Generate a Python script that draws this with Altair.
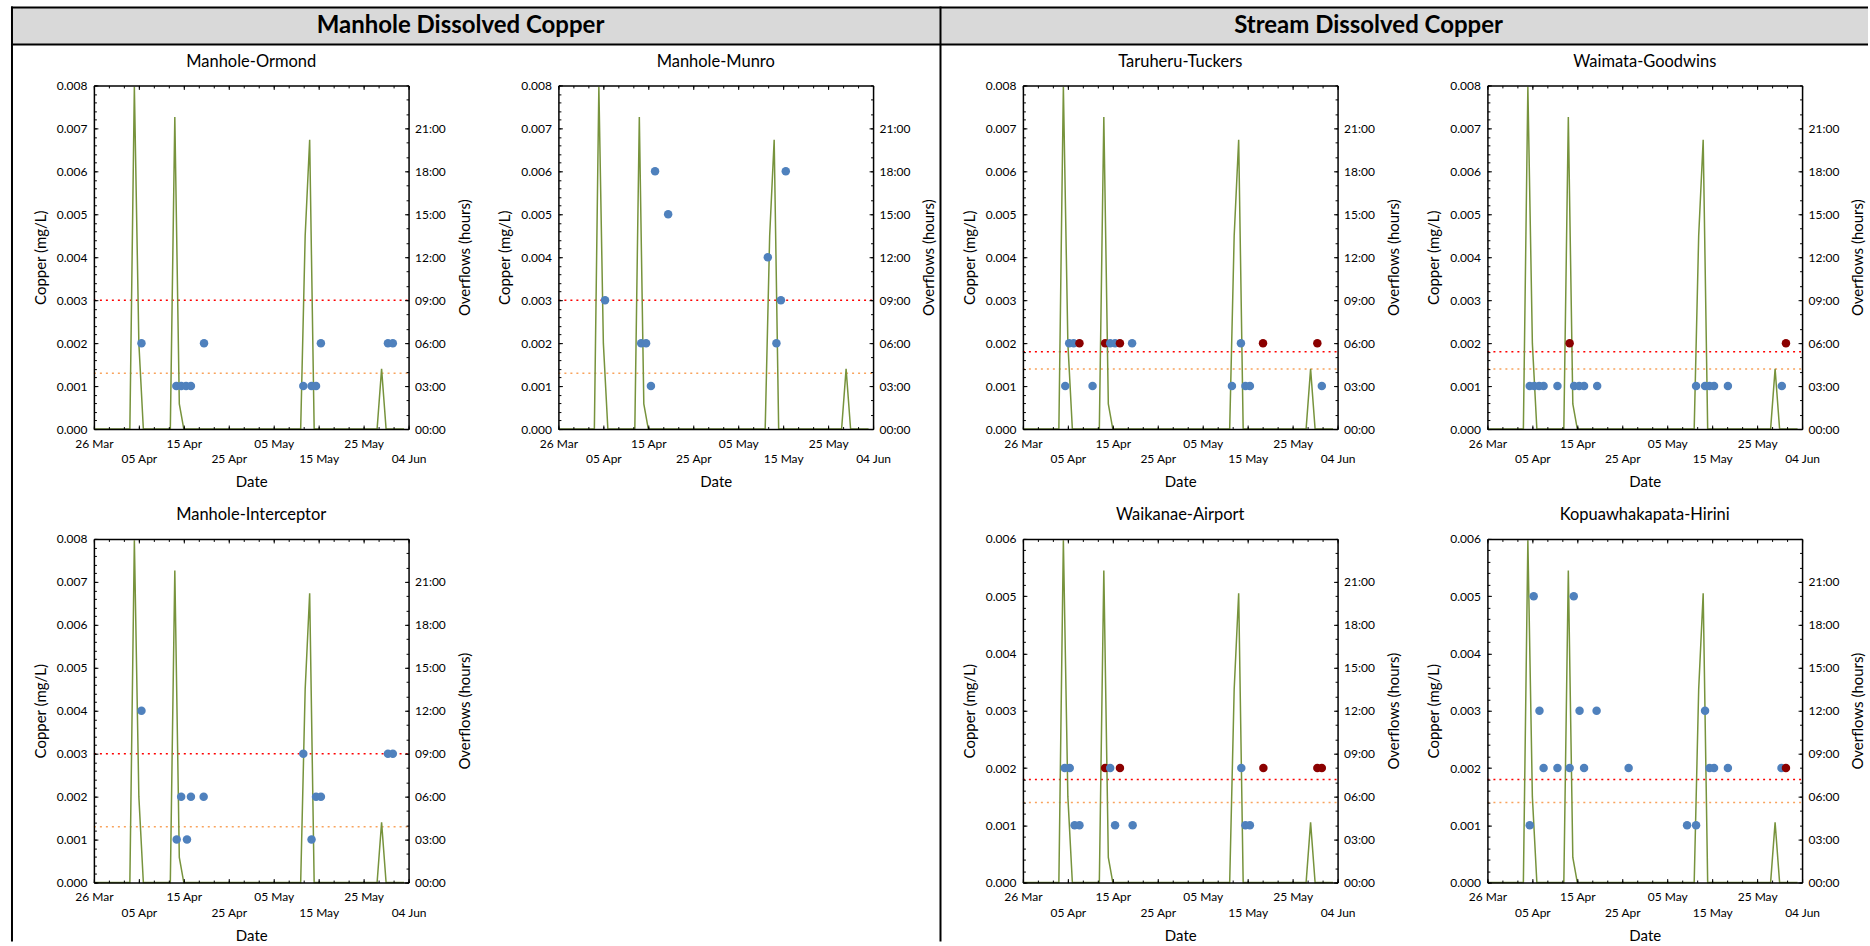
import altair as alt
import pandas as pd

FONT = "Lato"
BLUE = "#4F81BD"
DARKRED = "#8B0000"
GREEN = "#77933C"
RED = "#FF0000"
ORANGE = "#F9A35C"
GRAY = "#D9D9D9"

W, H = 315, 344

# ---------------- data ----------------
overflow_dates = ["2019-03-26", "2019-04-03", "2019-04-04", "2019-04-05", "2019-04-06",
                  "2019-04-12", "2019-04-13", "2019-04-14", "2019-04-15",
                  "2019-05-11", "2019-05-12", "2019-05-13", "2019-05-14",
                  "2019-05-28", "2019-05-29", "2019-05-30", "2019-06-03"]
overflow_hours = [0, 0, 23.9, 6.0, 0, 0, 21.8, 1.75, 0, 0, 13.5, 20.2, 0, 0, 4.2, 0, 0]

KINDS = ["normal", "flagged"]

ormond_dates = ["2019-04-05T14:00", "2019-04-13T08:00", "2019-04-14T10:00", "2019-04-15T12:00",
                "2019-04-16T14:00", "2019-04-19T12:00", "2019-05-11T14:00", "2019-05-13T10:00",
                "2019-05-14T10:00", "2019-05-15T12:00", "2019-05-30T10:00", "2019-05-31T12:00"]
ormond_cu = [0.002, 0.001, 0.001, 0.001, 0.001, 0.002, 0.001, 0.001, 0.001, 0.002, 0.002, 0.002]
ormond_flag = [0] * 12

munro_dates = ["2019-04-05T09:00", "2019-04-13T10:00", "2019-04-14T12:00", "2019-04-15T14:00",
               "2019-04-16T12:00", "2019-04-19T10:00", "2019-05-11T14:00", "2019-05-13T12:00",
               "2019-05-14T12:00", "2019-05-15T14:00"]
munro_cu = [0.003, 0.002, 0.002, 0.001, 0.006, 0.005, 0.004, 0.002, 0.003, 0.006]
munro_flag = [0] * 10

interceptor_dates = ["2019-04-05T14:00", "2019-04-13T10:00", "2019-04-14T10:00", "2019-04-15T17:00",
                     "2019-04-16T14:00", "2019-04-19T10:00", "2019-05-11T14:00", "2019-05-13T10:00",
                     "2019-05-14T10:00", "2019-05-15T12:00", "2019-05-30T10:00", "2019-05-31T12:00"]
interceptor_cu = [0.004, 0.001, 0.002, 0.001, 0.002, 0.002, 0.003, 0.001, 0.002, 0.002, 0.003, 0.003]
interceptor_flag = [0] * 12

taruheru_dates = ["2019-04-04T10:00", "2019-04-05T07:00", "2019-04-06T07:00", "2019-04-07T14:00",
                  "2019-04-10T12:00", "2019-04-13T07:00", "2019-04-14T10:00", "2019-04-15T12:00",
                  "2019-04-16T14:00", "2019-04-19T07:00", "2019-05-11T12:00", "2019-05-13T12:00",
                  "2019-05-14T12:00", "2019-05-15T12:00", "2019-05-18T10:00", "2019-05-30T12:00",
                  "2019-05-31T12:00"]
taruheru_cu = [0.001, 0.002, 0.002, 0.002, 0.001, 0.002, 0.002, 0.002, 0.002, 0.002,
               0.001, 0.002, 0.001, 0.001, 0.002, 0.002, 0.001]
taruheru_flag = [0, 0, 0, 1, 0, 1, 0, 0, 1, 0, 0, 0, 0, 0, 1, 1, 0]

waimata_dates = ["2019-04-04T10:00", "2019-04-05T10:00", "2019-04-06T12:00", "2019-04-07T12:00",
                 "2019-04-10T14:00", "2019-04-13T07:00", "2019-04-14T07:00", "2019-04-15T10:00",
                 "2019-04-16T12:00", "2019-04-19T10:00", "2019-05-11T10:00", "2019-05-13T10:00",
                 "2019-05-14T10:00", "2019-05-15T10:00", "2019-05-18T12:00", "2019-05-30T12:00",
                 "2019-05-31T10:00"]
waimata_cu = [0.001, 0.001, 0.001, 0.001, 0.001, 0.002, 0.001, 0.001, 0.001, 0.001,
              0.001, 0.001, 0.001, 0.001, 0.001, 0.001, 0.002]
waimata_flag = [0, 0, 0, 0, 0, 1, 0, 0, 0, 0, 0, 0, 0, 0, 0, 0, 1]

waikanae_dates = ["2019-04-04T07:00", "2019-04-05T10:00", "2019-04-06T12:00", "2019-04-07T14:00",
                  "2019-04-13T07:00", "2019-04-14T10:00", "2019-04-15T12:00", "2019-04-16T14:00",
                  "2019-04-19T10:00", "2019-05-13T14:00", "2019-05-14T12:00", "2019-05-15T12:00",
                  "2019-05-18T12:00", "2019-05-30T12:00", "2019-05-31T12:00"]
waikanae_cu = [0.002, 0.002, 0.001, 0.001, 0.002, 0.002, 0.001, 0.002, 0.001, 0.002,
               0.001, 0.001, 0.002, 0.002, 0.002]
waikanae_flag = [0, 0, 0, 0, 1, 0, 0, 1, 0, 0, 0, 0, 1, 1, 1]

kopua_dates = ["2019-04-04T10:00", "2019-04-05T07:00", "2019-04-06T14:00", "2019-04-07T12:00",
               "2019-04-10T14:00", "2019-04-13T07:00", "2019-04-14T05:00", "2019-04-15T12:00",
               "2019-04-16T12:00", "2019-04-19T07:00", "2019-04-26T10:00", "2019-05-09T10:00",
               "2019-05-11T10:00", "2019-05-13T10:00", "2019-05-14T10:00", "2019-05-15T10:00",
               "2019-05-18T12:00", "2019-05-30T10:00", "2019-05-31T10:00"]
kopua_cu = [0.001, 0.005, 0.003, 0.002, 0.002, 0.002, 0.005, 0.003, 0.002, 0.003,
            0.002, 0.001, 0.001, 0.003, 0.002, 0.002, 0.002, 0.002, 0.002]
kopua_flag = [0] * 18 + [1]

manhole_limits = [0.003, 0.0013]
stream_limits = [0.0018, 0.0014]

# axis tick values
major_dates = [(3, 26), (4, 5), (4, 15), (4, 25), (5, 5), (5, 15), (5, 25), (6, 4)]
hour_major = [0, 3, 6, 9, 12, 15, 18, 21]
hour_minor = list(range(0, 25))


def dt(m, d, h=0):
    return alt.DateTime(year=2019, month=m, date=d, hours=h)


X_DOMAIN = [dt(3, 26), dt(6, 4)]
major_dt = [dt(m, d) for m, d in major_dates]
minor_dt = [dt(t.month, t.day, t.hour)
            for t in pd.date_range("2019-03-26", "2019-06-04", freq="80h")]

LABEL_EXPR = ("indexof(['05 Apr','25 Apr','15 May','04 Jun'], datum.label) >= 0 "
              "? ['', datum.label] : datum.label")
HOUR_EXPR = "(datum.value < 10 ? '0' : '') + datum.value + ':00'"

TXT = dict(labelFont=FONT, labelFontSize=12, labelColor="black",
           titleFont=FONT, titleFontSize=15, titleFontWeight="normal", titleColor="black")


def tick_axis(orient, values, size, offset):
    return alt.Axis(orient=orient, values=values, labels=False, domain=False, ticks=True,
                    tickSize=size, tickColor="black", tickWidth=1, offset=offset,
                    title=None, grid=False, zindex=1)


def panel(name, dates, cu, flags, ymax, limits):
    pts = pd.DataFrame({"date": dates, "cu": cu, "kind": [KINDS[f] for f in flags]})
    ov = pd.DataFrame({"date": [d + "T00:00" for d in overflow_dates], "hours": overflow_hours})
    lim = pd.DataFrame({"start": ["2019-03-26T00:00"] * 2, "end": ["2019-06-04T00:00"] * 2,
                        "cu": limits, "col": [RED, ORANGE]})
    n_major = int(round(ymax / 0.001))
    cu_major = [round(i * 0.001, 4) for i in range(n_major + 1)]
    cu_minor = [round(i * 0.0002, 5) for i in range(n_major * 5 + 1)]

    xs = alt.Scale(domain=X_DOMAIN)
    cs = alt.Scale(domain=[0, ymax], nice=False, zero=True)
    hs = alt.Scale(domain=[0, 24], nice=False)

    bottom_axis = alt.Axis(orient="bottom", values=major_dt, format="%d %b", labelExpr=LABEL_EXPR,
                           labelFlush=False, labelOverlap=False, ticks=False, tickSize=0,
                           domain=True, domainColor="black", domainWidth=1.5,
                           labelPadding=9, labelLineHeight=16, title="Date", titlePadding=10,
                           grid=False, zindex=1, **TXT)
    right_axis = alt.Axis(orient="right", values=hour_major, labelExpr=HOUR_EXPR,
                          ticks=False, tickSize=0, domain=True, domainColor="black", domainWidth=1.5,
                          labelPadding=6, title="Overflows (hours)", titleAngle=270,
                          titleBaseline="top", titlePadding=12, grid=False, zindex=1, **TXT)
    left_axis = alt.Axis(orient="left", values=cu_major, format=".3f",
                         ticks=False, tickSize=0, domain=True, domainColor="black", domainWidth=1.5,
                         labelPadding=7, title="Copper (mg/L)", titlePadding=8,
                         grid=False, zindex=1, **TXT)
    top_axis = alt.Axis(orient="top", labels=False, ticks=False, domain=True, domainColor="black",
                        domainWidth=1.5, title=None, grid=False, zindex=1)

    thr = alt.Chart(lim).mark_rule(strokeDash=[2, 4], strokeWidth=1.5).encode(
        x=alt.X("start:T", scale=xs, axis=tick_axis("bottom", major_dt, 4, -H)),
        x2="end:T",
        y=alt.Y("cu:Q", scale=cs, axis=tick_axis("right", cu_major, 4, -W)),
        color=alt.Color("col:N", scale=None),
    )
    line = alt.Chart(ov).mark_line(color=GREEN, strokeWidth=1.5).encode(
        x=alt.X("date:T", scale=xs, axis=bottom_axis),
        y=alt.Y("hours:Q", scale=hs, axis=right_axis),
    )
    t1 = alt.Chart(ov).mark_point(opacity=0).encode(
        x=alt.X("date:T", scale=xs, axis=tick_axis("bottom", minor_dt, 2.5, -H)),
        y=alt.Y("hours:Q", scale=hs, axis=tick_axis("left", hour_major, 4, -W)),
    )
    t2 = alt.Chart(ov).mark_point(opacity=0).encode(
        x=alt.X("date:T", scale=xs, axis=tick_axis("top", major_dt, 4, -H)),
        y=alt.Y("hours:Q", scale=hs, axis=tick_axis("left", hour_minor, 2.5, -W)),
    )
    t3 = alt.Chart(pts).mark_point(opacity=0).encode(
        x=alt.X("date:T", scale=xs, axis=tick_axis("top", minor_dt, 2.5, -H)),
        y=alt.Y("cu:Q", scale=cs, axis=tick_axis("right", cu_minor, 2.5, -W)),
    )
    points = alt.Chart(pts).mark_circle(size=72, opacity=1).encode(
        x=alt.X("date:T", scale=xs, axis=top_axis),
        y=alt.Y("cu:Q", scale=cs, axis=left_axis),
        color=alt.Color("kind:N", scale=alt.Scale(domain=KINDS, range=[BLUE, DARKRED]), legend=None),
    )
    return alt.layer(thr, line, t1, t2, t3, points).resolve_scale(
        x="independent", y="independent"
    ).properties(
        width=W, height=H,
        title=alt.TitleParams(text=name, font=FONT, fontSize=16.5, fontWeight="normal",
                              color="black", anchor="middle", frame="group",
                              baseline="alphabetic", offset=8, dy=12),
    )


# ---------------- frame / headers (drawn from the empty grid cell) ----------------
one = pd.DataFrame({"k": [0]})
hdr_rect = alt.Chart(one).mark_rect(fill=GRAY).encode(
    x=alt.value(-547), x2=alt.value(1311), y=alt.value(-532), y2=alt.value(-495))
rule_top = alt.Chart(one).mark_rule(color="black", strokeWidth=2).encode(
    x=alt.value(-548), x2=alt.value(1311), y=alt.value(-532))
rule_hdr = alt.Chart(one).mark_rule(color="black", strokeWidth=2).encode(
    x=alt.value(-548), x2=alt.value(1311), y=alt.value(-495))
rule_left = alt.Chart(one).mark_rule(color="black", strokeWidth=2).encode(
    x=alt.value(-547), y=alt.value(-533), y2=alt.value(403))
rule_div = alt.Chart(one).mark_rule(color="black", strokeWidth=2).encode(
    x=alt.value(382.5), y=alt.value(-533), y2=alt.value(403))
txt_l = alt.Chart(one).mark_text(font=FONT, fontSize=24, fontWeight="bold", color="black",
                                 align="center", baseline="middle").encode(
    x=alt.value(-98), y=alt.value(-513), text=alt.value("Manhole Dissolved Copper"))
txt_r = alt.Chart(one).mark_text(font=FONT, fontSize=24, fontWeight="bold", color="black",
                                 align="center", baseline="middle").encode(
    x=alt.value(811), y=alt.value(-513), text=alt.value("Stream Dissolved Copper"))
blank = alt.layer(hdr_rect, rule_top, rule_hdr, rule_left, rule_div, txt_l, txt_r).properties(
    width=W, height=H)

charts = [
    panel("Manhole-Ormond", ormond_dates, ormond_cu, ormond_flag, 0.008, manhole_limits),
    panel("Manhole-Munro", munro_dates, munro_cu, munro_flag, 0.008, manhole_limits),
    panel("Taruheru-Tuckers", taruheru_dates, taruheru_cu, taruheru_flag, 0.008, stream_limits),
    panel("Waimata-Goodwins", waimata_dates, waimata_cu, waimata_flag, 0.008, stream_limits),
    panel("Manhole-Interceptor", interceptor_dates, interceptor_cu, interceptor_flag, 0.008, manhole_limits),
    blank,
    panel("Waikanae-Airport", waikanae_dates, waikanae_cu, waikanae_flag, 0.006, stream_limits),
    panel("Kopuawhakapata-Hirini", kopua_dates, kopua_cu, kopua_flag, 0.006, stream_limits),
]

chart = alt.concat(*charts, columns=4, spacing={"row": 110, "column": 150}, bounds="flush").properties(
    padding={"left": 9, "top": 4, "right": 0, "bottom": 0},
).configure(font=FONT, background="white").configure_view(stroke="transparent")

chart.save("out.html", embed_options={"renderer": "svg", "actions": False})
